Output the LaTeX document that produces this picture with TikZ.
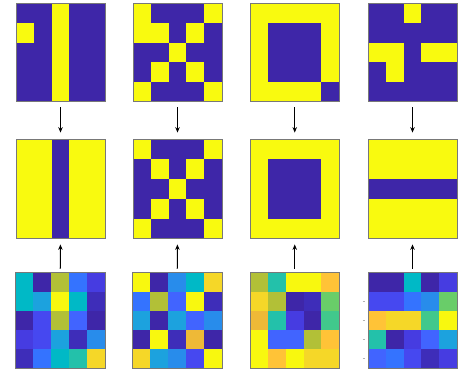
\documentclass[tikz,border=0pt]{standalone}
\usetikzlibrary{arrows.meta}
\definecolor{DB}{RGB}{62,38,168}
\definecolor{YY}{RGB}{249,250,15}
\definecolor{ca}{RGB}{62,38,168}
\definecolor{cb}{RGB}{62,45,185}
\definecolor{cc}{RGB}{70,60,225}
\definecolor{cd}{RGB}{70,72,240}
\definecolor{ce}{RGB}{65,100,255}
\definecolor{cf}{RGB}{52,115,255}
\definecolor{cg}{RGB}{40,140,235}
\definecolor{ch}{RGB}{28,162,222}
\definecolor{ci}{RGB}{0,185,198}
\definecolor{cj}{RGB}{35,193,170}
\definecolor{ck}{RGB}{65,200,140}
\definecolor{cl}{RGB}{105,205,105}
\definecolor{cm}{RGB}{178,192,55}
\definecolor{cn}{RGB}{238,185,55}
\definecolor{co}{RGB}{255,195,55}
\definecolor{cp}{RGB}{245,215,40}
\definecolor{cq}{RGB}{248,248,15}
\definecolor{frame}{RGB}{120,120,120}
\tikzset{
  panelbox/.style={draw=frame, line width=0.8pt, inner sep=0pt, fill=none},
  arr/.style={-{Stealth[length=5.5pt,width=4.5pt]}, line width=1.2pt, black},
  tickmark/.style={draw=black!30, line width=0.6pt}
}
% #1 name, #2 x0, #3 y0, #4 w, #5 h, #6 list of colours
\newcommand\mypanel[6]{%
  \foreach \c [count=\i from 0] in {#6} {
    \pgfmathtruncatemacro\myrr{int(\i/5)}
    \pgfmathtruncatemacro\mycc{\i-5*\myrr}
    \fill[fill=\c] ({#2+\mycc*#4/5},{#3+\myrr*#5/5}) rectangle ++({#4/5+0.3},{#5/5+0.3});
  }
  \node[panelbox, minimum width=#4pt, minimum height=#5pt] (#1) at ({#2+#4/2},{#3+#5/2}) {};
}
\begin{document}
\begin{tikzpicture}[x=1pt,y=-1pt]
\useasboundingbox (0,0) rectangle (467,376);
% row 1
\mypanel{p11}{16}{3.5}{89}{98}{DB,DB,YY,DB,DB, YY,DB,YY,DB,DB, DB,DB,YY,DB,DB, DB,DB,YY,DB,DB, DB,DB,YY,DB,DB}
\mypanel{p12}{133}{3.5}{89}{98}{YY,DB,DB,DB,YY, YY,YY,DB,YY,DB, DB,DB,YY,DB,DB, DB,YY,DB,YY,DB, YY,DB,DB,DB,YY}
\mypanel{p13}{250.5}{3.5}{88.5}{98}{YY,YY,YY,YY,YY, YY,DB,DB,DB,YY, YY,DB,DB,DB,YY, YY,DB,DB,DB,YY, YY,YY,YY,YY,DB}
\mypanel{p14}{368}{3.5}{89}{98}{DB,DB,YY,DB,DB, DB,DB,DB,DB,DB, YY,YY,DB,YY,YY, DB,YY,DB,DB,DB, DB,DB,DB,DB,DB}
% row 2
\mypanel{p21}{16}{139.5}{89}{99}{YY,YY,DB,YY,YY, YY,YY,DB,YY,YY, YY,YY,DB,YY,YY, YY,YY,DB,YY,YY, YY,YY,DB,YY,YY}
\mypanel{p22}{133}{139.5}{89}{99}{YY,DB,DB,DB,YY, DB,YY,DB,YY,DB, DB,DB,YY,DB,DB, DB,YY,DB,YY,DB, YY,DB,DB,DB,YY}
\mypanel{p23}{250.5}{139.5}{88.5}{99}{YY,YY,YY,YY,YY, YY,DB,DB,DB,YY, YY,DB,DB,DB,YY, YY,DB,DB,DB,YY, YY,YY,YY,YY,YY}
\mypanel{p24}{368}{139.5}{89}{99}{YY,YY,YY,YY,YY, YY,YY,YY,YY,YY, DB,DB,DB,DB,DB, YY,YY,YY,YY,YY, YY,YY,YY,YY,YY}
% row 3
\mypanel{p31}{15.5}{272.5}{89.5}{96}{ci,ca,cm,cf,cc, ci,ch,cq,ci,cb, ca,cd,cm,ce,ca, cc,cd,ch,cb,cg, cb,cf,ci,cj,cp}
\mypanel{p32}{132.5}{272.5}{89.5}{96}{cq,ca,cg,ci,cp, cf,cm,ce,cq,cb, ch,ca,ch,ce,cg, ca,cq,cb,cn,ca, cp,ch,cg,cd,cq}
\mypanel{p33}{250.5}{272.5}{88.5}{96}{cm,cj,cq,cq,co, cp,cm,ca,cb,cl, cn,cj,cc,ca,ck, cq,ce,ce,cm,co, cq,co,cq,cp,cp}
\mypanel{p34}{368}{272.5}{89}{96}{ca,ca,ci,ca,cc, cd,cd,cf,cg,cl, co,cp,cp,ck,cq, cj,ca,cc,ce,ch, ce,cf,cd,cb,cc}
% faint tick marks left of last panel
\foreach \yy in {301,320,339,358} \draw[tickmark] (362.5,\yy) -- (364.5,\yy);
% arrows
\foreach \k in {1,2,3,4} {
  \draw[arr, shorten <=5.5pt, shorten >=6.5pt] (p1\k) -- (p2\k);
  \draw[arr, shorten <=3.5pt, shorten >=5.5pt] (p3\k) -- (p2\k);
}
\end{tikzpicture}
\end{document}
